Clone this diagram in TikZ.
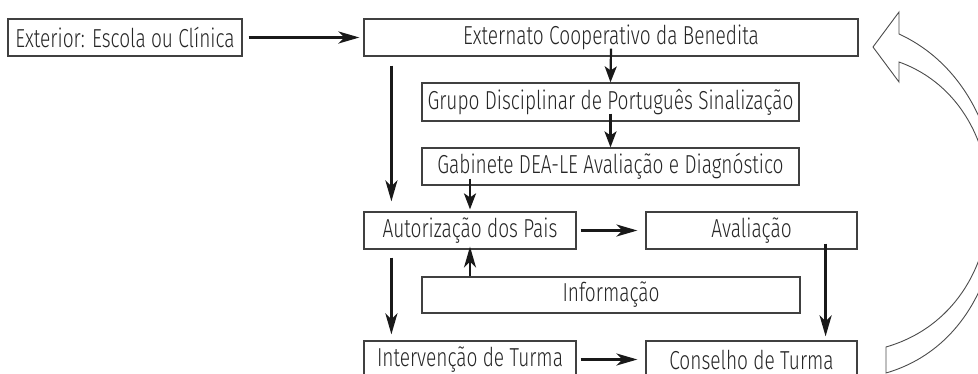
\documentclass[tikz,border=0pt]{standalone}
\usepackage{fontspec}
\setmainfont{Fira Sans Light}[FakeStretch=0.735]
\usetikzlibrary{arrows.meta,positioning,calc}

\begin{document}
\begin{tikzpicture}[x=1pt,y=-1pt]
  % Estilos
  \tikzstyle{caixa}=[rectangle, draw=black!75, line width=1.2pt, fill=white, inner sep=0pt, minimum height=37pt, text=black!85, font=\fontsize{26}{30}\selectfont]
  \tikzstyle{seta}=[-{Stealth[length=21pt, width=12pt, inset=6pt]}, line width=3pt, black!90]
  \tikzstyle{setinha}=[-{Stealth[length=16pt, width=12pt, inset=4pt]}, line width=2.2pt, black!90]
  \tikzstyle{contorno}=[draw=black!70, line width=0.9pt, fill=white]

  \useasboundingbox (0,0) rectangle (978,374);
  \clip (0,0) rectangle (978,374);

  % Caixas
  \node[caixa, minimum width=234pt] (ext) at (125,37.5) {Exterior: Escola ou Clínica};
  \node[caixa, minimum width=494pt] (ecb) at (611,37.5) {Externato Cooperativo da Benedita};
  \node[caixa, minimum width=377pt, minimum height=38pt] (grupo) at (610.5,102) {Grupo Disciplinar de Português Sinalização};
  \node[caixa, minimum width=377pt] (gab) at (610.5,166.5) {Gabinete DEA-LE Avaliação e Diagnóstico};
  \node[caixa, minimum width=212pt] (aut) at (470,230.5) {Autorização dos Pais};
  \node[caixa, minimum width=211pt] (aval) at (751.5,230.5) {Avaliação};
  \node[caixa, minimum width=378pt, minimum height=36pt] (info) at (611,295) {Informação};
  \node[caixa, minimum width=212pt] (interv) at (470,359.5) {Intervenção de Turma};
  \node[caixa, minimum width=211pt] (cons) at (751.5,359.5) {Conselho de Turma};

  % Setas principais
  \draw[seta, shorten <=6pt, shorten >=4pt] (ext) -- (ecb);
  \draw[seta, shorten <=9pt, shorten >=10pt] ([xshift=28pt]ecb.south west) -- ([xshift=28pt]aut.north west);
  \draw[seta, shorten <=4pt, shorten >=8pt] (aut) -- (aval);
  \draw[seta, shorten >=4pt] ([xshift=-32pt, yshift=6pt]aval.south east) -- ([xshift=-32pt]cons.north east);
  \draw[seta, line width=2.6pt, shorten >=-3pt] (info.north -| aut.south) -- (aut.south);
  \draw[seta, shorten <=8pt, shorten >=6pt] ([xshift=28pt]aut.south west) -- ([xshift=28pt]interv.north west);
  \draw[seta, shorten <=4pt, shorten >=8pt] (interv) -- (cons);

  % Setas pequenas
  \draw[setinha] ([yshift=8pt]ecb.south) -- (grupo.north);
  \draw[setinha] ([yshift=8pt]grupo.south) -- (gab.north);
  \draw[setinha, line width=2.4pt, shorten >=2pt] ([yshift=7pt]gab.south -| aut.north) -- (aut.north);

  % Seta curva de retorno
  \draw[contorno] (899,34) -- (899,12) -- (873,47) -- (899,82) -- (899,62)
    .. controls (1022,106) and (1021,308) .. (886,347) -- (886,373)
    .. controls (1031,331) and (1034,96) .. (899,34) -- cycle;
\end{tikzpicture}
\end{document}
